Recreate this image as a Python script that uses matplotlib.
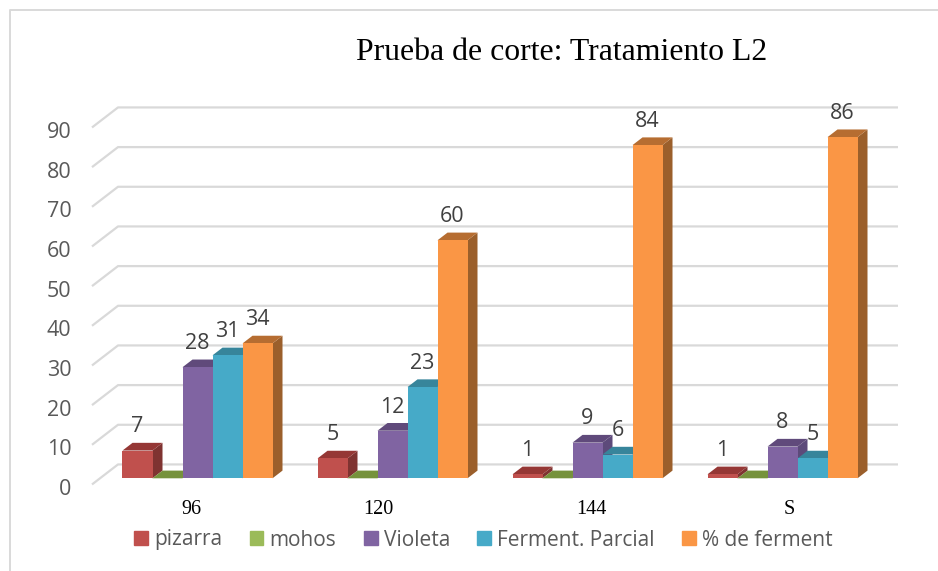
import matplotlib
matplotlib.use("Agg")
import matplotlib.pyplot as plt
from matplotlib.lines import Line2D
from matplotlib.patches import Patch
from matplotlib.transforms import ScaledTranslation
import numpy as np

categories = ["96", "120", "144", "S"]
series_names = ["pizarra", "mohos", "Violeta", "Ferment. Parcial", "% de ferment"]
pizarra = [7, 5, 1, 1]
mohos = [0, 0, 0, 0]
violeta = [28, 12, 9, 8]
parcial = [31, 23, 6, 5]
ferment = [34, 60, 84, 86]
y_ticks = [0, 10, 20, 30, 40, 50, 60, 70, 80, 90]

series = [pizarra, mohos, violeta, parcial, ferment]
front = ["#c0504d", "#9bbb59", "#8064a2", "#46aac8", "#fa9645"]
top = ["#953735", "#76923c", "#604a7b", "#37859b", "#b66d31"]
side = ["#7f3331", "#66803a", "#5d4a7a", "#2f7186", "#9b5f2b"]
grid_col = "#d9d9d9"

W, H = 938, 571
fig = plt.figure(figsize=(W / 100, H / 100), dpi=100)
ax = fig.add_axes([100 / W, 1 - 478.3 / H, 780 / W, 357 / H])
ax.set_xlim(-0.5, 3.5)
ax.set_ylim(0, 90)
ax.patch.set_visible(False)
for s in ax.spines.values():
    s.set_visible(False)

bar_w = 30 / 195
# one unit of depth = 10 px right and 7.7 px up
dx = 10 / 195
dy = 7.7 / (357 / 90)
back = 1.8
wall = -0.8

# back wall and left wall grid lines
for v in y_ticks:
    ax.plot([-0.5 + wall * dx, -0.5 + back * dx, 3.5 + back * dx],
            [v + wall * dy, v + back * dy, v + back * dy],
            color=grid_col, lw=1.6, clip_on=False, zorder=1, solid_capstyle="butt")

z = 2
for g in range(len(categories)):
    for i, vals in enumerate(series):
        v = vals[g]
        x0 = g + (i - 2.5) * bar_w
        x1 = x0 + bar_w
        ax.fill([x1, x1 + dx, x1 + dx, x1], [0, dy, v + dy, v],
                color=side[i], lw=0, clip_on=False, zorder=z)
        ax.fill([x0, x1, x1 + dx, x0 + dx], [v, v, v + dy, v + dy],
                color=top[i], lw=0, clip_on=False, zorder=z)
        if v > 0:
            ax.fill([x0, x1, x1, x0], [0, 0, v, v],
                    color=front[i], lw=0, clip_on=False, zorder=z)
        z += 1

for g in range(len(categories)):
    for i, vals in enumerate(series):
        if vals[g] > 0:
            ax.annotate(str(vals[g]), (g + (i - 2) * bar_w, vals[g]),
                        xytext=(0, 17), textcoords="offset points",
                        ha="center", va="center", fontsize=15.5,
                        family="Open Sans", color="#404040", zorder=200)

ax.set_yticks(y_ticks)
ax.set_yticklabels([str(v) for v in y_ticks], family="Open Sans", fontsize=15.5, color="#595959")
ax.tick_params(axis="y", length=0, pad=20.5)
shift = ScaledTranslation(0, -6.2 / 72, fig.dpi_scale_trans)
for lab in ax.get_yticklabels():
    lab.set_transform(lab.get_transform() + shift)

ax.set_xticks(range(len(categories)))
ax.set_xticklabels(categories, family="Liberation Serif", fontsize=14.5, color="black")
ax.tick_params(axis="x", length=0, pad=15.5)
x_nudge = [-6.5, -14.5, 3.5, 6.5]
for lab, n in zip(ax.get_xticklabels(), x_nudge):
    lab.set_transform(lab.get_transform() + ScaledTranslation(n * 0.72 / 72, 0, fig.dpi_scale_trans))

fig.text(562 / W, 1 - 52 / H, "Prueba de corte: Tratamiento L2", family="Liberation Serif",
         fontsize=22.9, color="black", ha="center", va="center")

handles = [Patch(color=c) for c in front]
fig.legend(handles, series_names, ncol=5, loc="center", bbox_to_anchor=(483.5 / W, 1 - 540 / H),
           frameon=False, prop={"family": "Open Sans", "size": 15}, labelcolor="#595959",
           handlelength=0.67, handleheight=0.67, handletextpad=0.3, columnspacing=1.3)

fig.add_artist(Line2D([9.5 / W, 9.5 / W, 1], [0, 1 - 10 / H, 1 - 10 / H], color=grid_col, lw=1.4))

fig.savefig("out.png", dpi=100)
